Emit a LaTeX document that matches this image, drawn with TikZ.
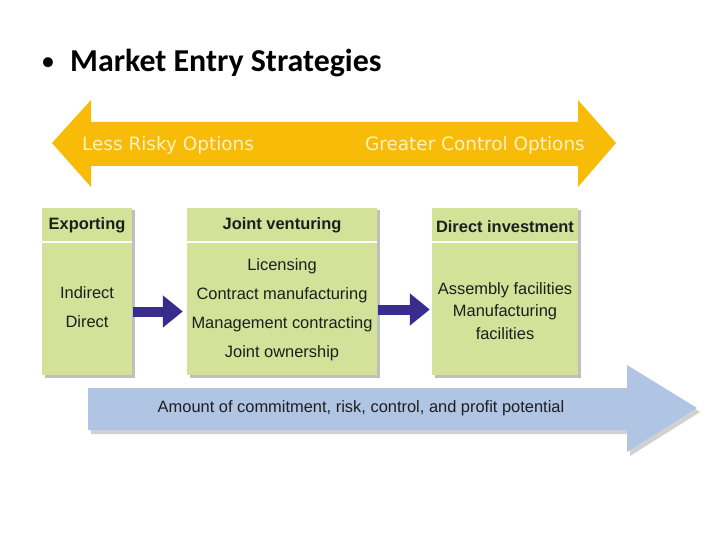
\documentclass[tikz,border=0pt]{standalone}
\usepackage{fontspec}
\setmainfont{Liberation Sans}
\newfontfamily\titlefont{Carlito}
\newfontfamily\verdfont{DejaVu Sans}
\usetikzlibrary{arrows.meta,shadows,calc}
\definecolor{ylw}{RGB}{247,187,8}
\definecolor{ylwtxt}{RGB}{255,242,196}
\definecolor{grn}{RGB}{211,226,152}
\definecolor{blu}{RGB}{176,196,228}
\definecolor{pur}{RGB}{58,44,140}
\definecolor{txt}{RGB}{30,30,30}
\tikzset{
  box/.style={rectangle, fill=grn, inner sep=0pt,
    drop shadow={shadow xshift=2.5bp, shadow yshift=-2.5bp, fill=black, opacity=.25}},
  hdr/.style={font=\bfseries\fontsize{16.5}{18}\selectfont, text=txt, inner sep=0pt},
  itm/.style={font=\fontsize{16.5}{18}\selectfont, text=txt, inner sep=0pt},
  divider/.style={white, line width=1.8bp},
  flow/.style={pur, line width=10bp, -{Triangle[width=31bp,length=20bp]}},
  bandtxt/.style={font=\verdfont\fontsize{18.5}{21}\selectfont, text=ylwtxt, inner sep=0pt}
}
\begin{document}
\begin{tikzpicture}[x=1bp,y=-1bp]
\useasboundingbox[fill=white] (0,0) rectangle (720,540);

% title
\node[font=\titlefont\fontsize{28}{32}\selectfont, inner sep=0pt] (bul) at (48,64) {•};
\node[font=\titlefont\bfseries\fontsize{32}{36}\selectfont, anchor=west, inner sep=0pt, text=black] (title) at (70,63) {Market Entry Strategies};

% yellow double arrow
\fill[ylw] (52,143) -- (91,100) -- (91,122) -- (578,122) -- (578,100) -- (616,143)
  -- (578,187) -- (578,166) -- (91,166) -- (91,187) -- cycle;
\node[bandtxt, anchor=west] (less) at (82,145) {Less Risky Options};
\node[bandtxt, anchor=east] (greater) at (585,145) {Greater Control Options};

% boxes
\node[box, minimum width=90bp, minimum height=167bp] (exp) at (87,291.5) {};
\node[box, minimum width=190bp, minimum height=167bp] (jv) at (282,291.5) {};
\node[box, minimum width=146bp, minimum height=167bp] (di) at (505,291.5) {};

\foreach \b in {exp,jv,di}
  \draw[divider] ($(\b.north west)+(0,34)$) -- ($(\b.north east)+(0,34)$);

\node[hdr] (exph) at (87,225) {Exporting};
\node[hdr] (jvh) at (282,225) {Joint venturing};
\node[hdr] (dih) at (505,227) {Direct investment};

\node[itm] (e1) at (87,293) {Indirect};
\node[itm] (e2) at (87,322) {Direct};

\node[itm] (j1) at (282,266) {Licensing};
\node[itm] (j2) at (282,295) {Contract manufacturing};
\node[itm] (j3) at (282,324) {Management contracting};
\node[itm] (j4) at (282,353) {Joint ownership};

\node[itm] (d1) at (505,290) {Assembly facilities};
\node[itm] (d2) at (505,312) {Manufacturing};
\node[itm] (d3) at (505,334) {facilities};

% purple arrows
\draw[flow] ($(exp.east)+(1,20)$) -- ($(jv.west)+(-4,20)$);
\draw[flow] ($(jv.east)+(1,18)$) -- ($(di.west)+(-2,18)$);

% blue arrow
\fill[black, opacity=.18] (91,392) -- (630,392) -- (630,369) -- (700,412) -- (630,456)
  -- (630,434) -- (91,434) -- cycle;
\fill[blu] (88,388) -- (627,388) -- (627,365) -- (697,408) -- (627,452)
  -- (627,430) -- (88,430) -- cycle;
\node[itm] (amt) at (361,408) {Amount of commitment, risk, control, and profit potential};
\end{tikzpicture}
\end{document}
